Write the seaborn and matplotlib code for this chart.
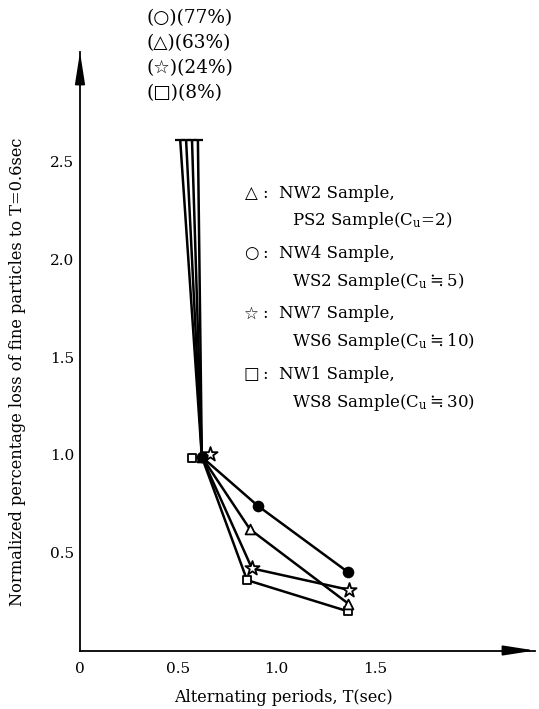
import numpy as np
import pandas as pd
import matplotlib
matplotlib.use("Agg")
import matplotlib.pyplot as plt
import seaborn as sns

# ---------------- data ----------------
series = ["circle", "triangle", "star", "square"]
# off-scale starting points (lines leave the top of the plot)
T_top = [0.51, 0.54, 0.57, 0.60]
y_top = [2.61, 2.61, 2.61, 2.61]
# normalisation point (T ~ 0.6 s), where the lines meet
T_join = [0.62, 0.62, 0.62, 0.62]
y_join = [0.99, 0.99, 0.99, 0.99]
# marker positions drawn at the normalisation point
T_norm_mark = [0.62, 0.62, 0.66, 0.57]
y_norm_mark = [0.99, 0.99, 1.005, 0.985]
# T ~ 0.9 s
T_mid = [0.905, 0.865, 0.875, 0.85]
y_mid = [0.74, 0.62, 0.42, 0.36]
# T ~ 1.35 s
T_end = [1.365, 1.365, 1.37, 1.365]
y_end = [0.40, 0.24, 0.31, 0.20]

top_labels = ["(○)(77%)", "(△)(63%)", "(☆)(24%)", "(□)(8%)"]
legend_symbols = ["△", "○", "☆", "□"]
legend_first = ["NW2 Sample,", "NW4 Sample,", "NW7 Sample,", "NW1 Sample,"]
legend_second = ["PS2 Sample(C$_\\mathregular{u}$=2)",
                 "WS2 Sample(C$_\\mathregular{u}\\fallingdotseq$5)",
                 "WS6 Sample(C$_\\mathregular{u}\\fallingdotseq$10)",
                 "WS8 Sample(C$_\\mathregular{u}\\fallingdotseq$30)"]
x_ticks = [0, 0.5, 1.0, 1.5, 2.0]
x_tick_labels = ["0", "0.5", "1.0", "1.5", ""]
y_ticks = [0.5, 1.0, 1.5, 2.0, 2.5]
y_tick_labels = ["0.5", "1.0", "1.5", "2.0", "2.5"]

# ---------------- style ----------------
sns.set_theme(style="white")
FAM = ["DejaVu Serif", "DejaVu Sans"]
plt.rcParams["font.family"] = FAM
plt.rcParams["mathtext.fontset"] = "dejavuserif"
plt.rcParams["text.color"] = "black"
plt.rcParams["axes.labelcolor"] = "black"
plt.rcParams["xtick.color"] = "black"
plt.rcParams["ytick.color"] = "black"

W, H = 539, 709
fig = plt.figure(figsize=(W / 100, H / 100), dpi=100)
x0px, y0px = 80, 650.5
sx, sy = 196.5, 195.5
right_px, top_px = 535, 52
ax = fig.add_axes([x0px / W, (H - y0px) / H, (right_px - x0px) / W, (y0px - top_px) / H])
ax.set_xlim(0, (right_px - x0px) / sx)
ax.set_ylim(0, (y0px - top_px) / sy)

# ---------------- lines ----------------
rows = []
for i, s in enumerate(series):
    for k, (t, v) in enumerate([(T_top[i], y_top[i]), (T_join[i], y_join[i]),
                                (T_mid[i], y_mid[i]), (T_end[i], y_end[i])]):
        rows.append({"series": s, "order": k, "T": t, "value": v})
df = pd.DataFrame(rows)
for s in series:
    sub = df[df.series == s]
    sns.lineplot(data=sub, x="T", y="value", sort=False, estimator=None,
                 color="black", lw=1.8, ax=ax, legend=False)

# caps at the top of the off-scale lines
sns.scatterplot(x=T_top, y=y_top, marker="_", s=45, color="black", linewidth=1.6, ax=ax, legend=False)

# ---------------- markers ----------------
mk = {"circle": "o", "triangle": "^", "star": "*", "square": "s"}
msize = {"circle": 50, "triangle": 50, "star": 115, "square": 40}
for s in series[::-1]:
    j = series.index(s)
    xs = [T_norm_mark[j], T_mid[j], T_end[j]]
    ys = [y_norm_mark[j], y_mid[j], y_end[j]]
    fc = "black" if s == "circle" else "white"
    sns.scatterplot(x=xs, y=ys, marker=mk[s], s=msize[s], facecolor=fc,
                    edgecolor="black", linewidth=1.3, ax=ax, legend=False, zorder=5)

# ---------------- axes styling ----------------
for side in ["top", "right"]:
    ax.spines[side].set_visible(False)
for side in ["left", "bottom"]:
    ax.spines[side].set_linewidth(1.3)
    ax.spines[side].set_color("black")
ax.set_xticks(x_ticks)
ax.set_xticklabels(x_tick_labels)
ax.set_yticks(y_ticks)
ax.set_yticklabels(y_tick_labels)
ax.tick_params(axis="both", direction="in", length=5, width=1.1, colors="black",
               labelcolor="black", labelsize=11)
ax.tick_params(axis="x", pad=8)
ax.tick_params(axis="y", pad=4)
ax.set_xlabel("")
ax.set_ylabel("")

# arrow heads at the ends of the axes
ax.annotate("", xy=(0, 1.0), xytext=(0, 0.95), xycoords="axes fraction",
            arrowprops=dict(arrowstyle="-|>,head_length=1.6,head_width=0.25", color="black",
                            lw=1.3, shrinkA=0, shrinkB=0), annotation_clip=False)
ax.annotate("", xy=(1.0, 0), xytext=(0.94, 0), xycoords="axes fraction",
            arrowprops=dict(arrowstyle="-|>,head_length=1.6,head_width=0.25", color="black",
                            lw=1.3, shrinkA=0, shrinkB=0), annotation_clip=False)

# ---------------- texts ----------------
def fx(px):
    return px / W

def fy(py):
    return 1 - py / H

fig.text(fx(283), fy(698), "Alternating periods, T(sec)", ha="center", va="center",
         fontsize=11.5, color="black")
fig.text(fx(18), fy(372), "Normalized percentage loss of fine particles to T=0.6sec",
         ha="center", va="center", rotation=90, fontsize=11.7, color="black")

for k, lab in enumerate(top_labels):
    fig.text(fx(147), fy(18 + 25 * k), lab, ha="left", va="center", fontsize=13.3, color="black")

for k in range(4):
    yc = 193 + 60.5 * k
    fig.text(fx(251), fy(yc), legend_symbols[k], ha="center", va="center", fontsize=12,
             family=["DejaVu Sans"], color="black")
    fig.text(fx(262), fy(yc), ":", ha="left", va="center", fontsize=12, color="black")
    fig.text(fx(279), fy(yc), legend_first[k], ha="left", va="center", fontsize=12, color="black")
    fig.text(fx(292), fy(yc + 28), legend_second[k], ha="left", va="center", fontsize=12,
             color="black")

fig.savefig("out.png", dpi=100)
